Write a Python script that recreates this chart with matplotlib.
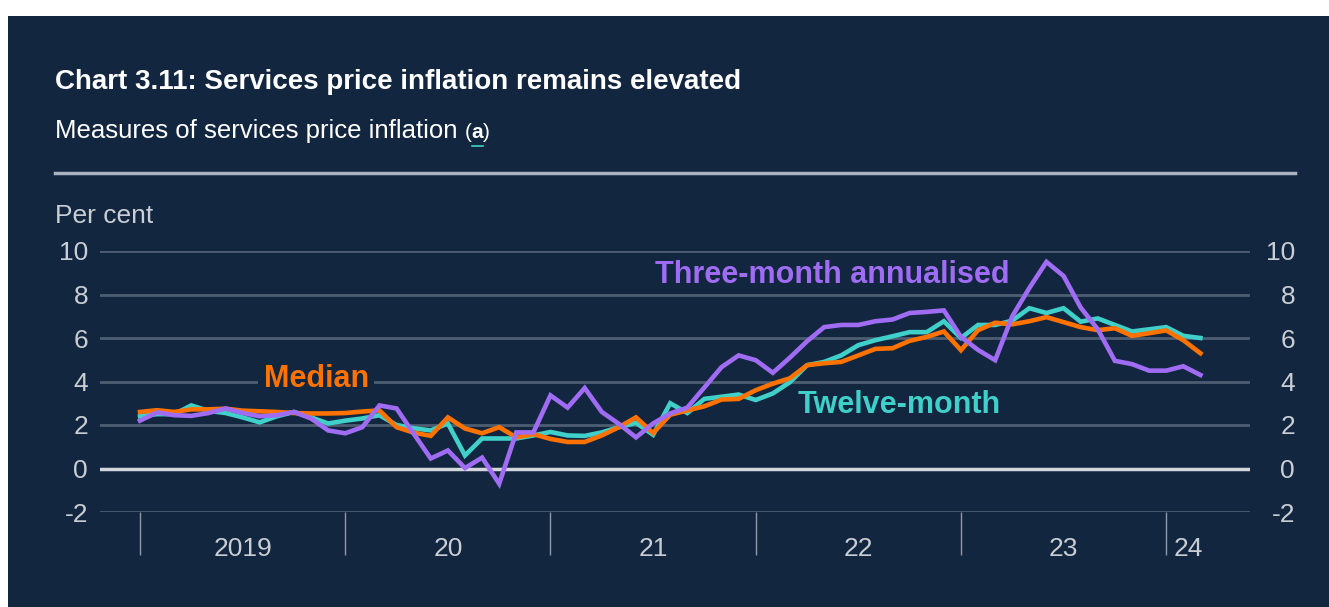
import numpy as np
import matplotlib.pyplot as plt
from matplotlib.patches import Rectangle
from matplotlib.lines import Line2D

plt.rcParams['font.family'] = ['Liberation Sans', 'DejaVu Sans']

# monthly values, Jan 2019 - Mar 2024 (per cent)
twelve_month = [2.4, 2.5, 2.5, 2.9, 2.65, 2.55, 2.35, 2.12, 2.4, 2.6, 2.35, 2.07,
                2.2, 2.3, 2.45, 2.0, 1.85, 1.75, 2.07, 0.6, 1.38, 1.38, 1.38, 1.52,
                1.68, 1.52, 1.5, 1.66, 1.9, 2.1, 1.55, 3.0, 2.55, 3.2, 3.3, 3.4,
                3.15, 3.45, 3.97, 4.75, 4.9, 5.2, 5.67, 5.9, 6.08, 6.27, 6.27, 6.77,
                6.0, 6.6, 6.6, 6.8, 7.37, 7.15, 7.37, 6.75, 6.9, 6.6, 6.3, 6.4,
                6.5, 6.1, 6.0]
median = [2.6, 2.68, 2.6, 2.72, 2.72, 2.75, 2.66, 2.63, 2.6, 2.55, 2.53, 2.53,
          2.55, 2.62, 2.67, 1.9, 1.65, 1.5, 2.35, 1.84, 1.62, 1.9, 1.43, 1.58,
          1.36, 1.22, 1.22, 1.52, 1.9, 2.35, 1.63, 2.47, 2.67, 2.86, 3.17, 3.2,
          3.6, 3.9, 4.15, 4.75, 4.84, 4.9, 5.2, 5.5, 5.53, 5.87, 6.05, 6.3,
          5.44, 6.36, 6.7, 6.63, 6.77, 6.96, 6.73, 6.5, 6.36, 6.45, 6.1, 6.22,
          6.35, 5.9, 5.3]
three_month = [2.2, 2.58, 2.45, 2.42, 2.55, 2.76, 2.55, 2.4, 2.45, 2.6, 2.3, 1.75,
               1.62, 1.9, 2.9, 2.76, 1.6, 0.46, 0.83, 0.02, 0.5, -0.7, 1.66, 1.66,
               3.36, 2.8, 3.7, 2.6, 2.05, 1.43, 2.07, 2.53, 2.8, 3.73, 4.66, 5.2,
               4.98, 4.4, 5.1, 5.85, 6.5, 6.6, 6.6, 6.77, 6.85, 7.15, 7.2, 7.27,
               6.05, 5.45, 4.98, 7.0, 8.3, 9.5, 8.85, 7.4, 6.4, 4.95, 4.8, 4.5,
               4.5, 4.7, 4.3]

year_labels = ['2019', '20', '21', '22', '23', '24']
year_starts = [0, 12, 24, 36, 48, 60]
label_pos = [6, 18, 30, 42, 54, 61.3]

navy = '#13263f'
grid_c = '#4d5d72'
zero_c = '#d3d7db'
tick_c = '#c9ced4'
teal = '#3fd0c9'
orange = '#ff7200'
purple = '#a06cf4'

W, H = 1329, 607
fig = plt.figure(figsize=(W / 100, H / 100), dpi=100, facecolor='white')
fig.patches.append(Rectangle((8 / W, 0), 1 - 8 / W, (H - 16) / H, transform=fig.transFigure,
                             facecolor=navy, edgecolor='none', zorder=-10))

# titles
fig.text(55 / W, 1 - 82 / H, 'Chart 3.11: Services price inflation remains elevated',
         fontsize=20, weight='bold', color='white', va='center')
r = fig.canvas.get_renderer()
t1 = fig.text(55 / W, 1 - 131 / H, 'Measures of services price inflation ', fontsize=18.5,
              color='white', va='center')
x1 = t1.get_window_extent(r).x1
t2 = fig.text(x1 / W, 1 - 132 / H, '(', fontsize=15, color='white', va='center')
x2 = t2.get_window_extent(r).x1
t3 = fig.text(x2 / W, 1 - 132 / H, 'a', fontsize=15, weight='bold', color='white', va='center')
bb = t3.get_window_extent(r)
fig.text(bb.x1 / W, 1 - 132 / H, ')', fontsize=15, color='white', va='center')
fig.lines.append(Line2D([bb.x0 / W, bb.x1 / W], [1 - 146 / H, 1 - 146 / H], transform=fig.transFigure,
                        color=teal, lw=1.2))
fig.lines.append(Line2D([55 / W, 1295 / W], [1 - 173 / H, 1 - 173 / H], transform=fig.transFigure,
                        color='#a9b3bf', lw=2.5))
fig.text(55 / W, 1 - 216 / H, 'Per cent', fontsize=19, color=tick_c, va='center')

ax = fig.add_axes([100 / W, (H - 512) / H, 1150 / W, 261 / H])
ax.patch.set_alpha(0)
x = np.arange(len(twelve_month))
ax.set_xlim(-2.34, 64.9)
ax.set_ylim(-2, 10)

for v in [-2, 2, 4, 6, 8, 10]:
    ax.axhline(v, color=grid_c, lw=2, zorder=1)
ax.axhline(0, color=zero_c, lw=2.5, zorder=1)

ax.plot(x, twelve_month, color=teal, lw=3.3, zorder=3, solid_joinstyle='miter')
ax.plot(x, median, color=orange, lw=3.3, zorder=4, solid_joinstyle='miter')
ax.plot(x, three_month, color=purple, lw=3.3, zorder=5, solid_joinstyle='miter')

ax.text(10.3, 4.1, 'Median', color=orange, fontsize=22, weight='bold', ha='center', va='center',
        zorder=2, bbox=dict(facecolor=navy, edgecolor='none', pad=4))
ax.text(40.5, 8.9, 'Three-month annualised', color=purple, fontsize=22, weight='bold',
        ha='center', va='center', zorder=6)
ax.text(44.4, 2.9, 'Twelve-month', color=teal, fontsize=22, weight='bold',
        ha='center', va='center', zorder=6)

for s in ax.spines.values():
    s.set_visible(False)

ax.set_yticks(range(-2, 11, 2))
ax.set_yticklabels([str(v) for v in range(-2, 11, 2)])
ax.tick_params(axis='y', length=0, pad=8.6, labelsize=19, labelcolor=tick_c)

ax.set_xticks(year_starts)
ax.set_xticklabels([])
ax.set_xticks(label_pos, minor=True)
ax.set_xticklabels(year_labels, minor=True)
ax.tick_params(axis='x', which='major', length=31, width=1, color='#8f99a6', direction='out')
ax.tick_params(axis='x', which='minor', length=0, pad=18, labelsize=19, labelcolor=tick_c)

ax2 = ax.twinx()
ax2.set_ylim(-2, 10)
ax2.set_yticks(range(-2, 11, 2))
ax2.set_yticklabels([str(v) for v in range(-2, 11, 2)])
ax2.tick_params(axis='y', length=0, pad=32.4, labelsize=19, labelcolor=tick_c)
for lab in ax2.get_yticklabels():
    lab.set_ha('right')
for s in ax2.spines.values():
    s.set_visible(False)

fig.savefig('out.png', dpi=100, facecolor=fig.get_facecolor())
